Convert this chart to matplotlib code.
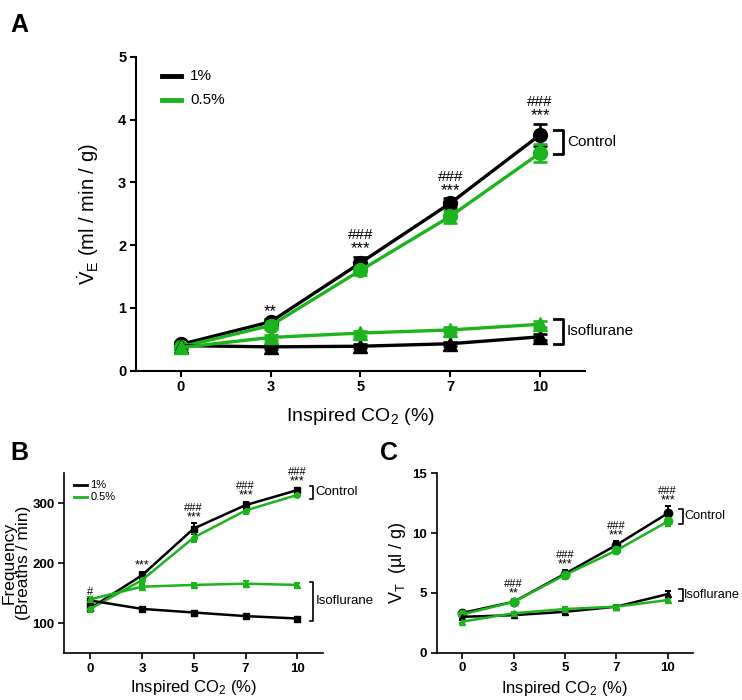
import matplotlib
matplotlib.use("Agg")
import matplotlib.pyplot as plt
import numpy as np

plt.rcParams['font.family'] = ['Liberation Sans', 'DejaVu Sans']
plt.rcParams['mathtext.fontset'] = 'custom'
plt.rcParams['mathtext.rm'] = 'Liberation Sans'
plt.rcParams['mathtext.it'] = 'Liberation Sans:italic'
plt.rcParams['mathtext.bf'] = 'Liberation Sans:bold'

GREEN = '#1cb41c'
BLACK = '#000000'

co2_labels = ['0', '3', '5', '7', '10']

# Panel A: minute ventilation (ml/min/g)
a_ctrl_1 = [0.42, 0.78, 1.72, 2.67, 3.76]
a_ctrl_1_err = [0.03, 0.05, 0.10, 0.08, 0.18]
a_ctrl_05 = [0.38, 0.72, 1.60, 2.46, 3.47]
a_ctrl_05_err = [0.03, 0.05, 0.08, 0.10, 0.14]
a_iso_1 = [0.40, 0.38, 0.39, 0.43, 0.54]
a_iso_1_err = [0.02, 0.03, 0.03, 0.03, 0.05]
a_iso_05 = [0.37, 0.53, 0.60, 0.65, 0.74]
a_iso_05_err = [0.03, 0.04, 0.04, 0.04, 0.05]
a_stars = ['', '**', '***', '***', '***']
a_hash = ['', '', '###', '###', '###']

# Panel B: frequency (breaths/min)
b_ctrl_1 = [125, 180, 258, 297, 322]
b_ctrl_1_err = [5, 6, 9, 6, 4]
b_ctrl_05 = [124, 172, 243, 288, 314]
b_ctrl_05_err = [5, 6, 8, 6, 4]
b_iso_1 = [138, 124, 118, 112, 108]
b_iso_1_err = [3, 2, 2, 2, 2]
b_iso_05 = [140, 161, 164, 166, 164]
b_iso_05_err = [4, 3, 3, 4, 4]
b_stars = ['', '***', '***', '***', '***']
b_hash = ['#', '', '###', '###', '###']

# Panel C: tidal volume (ul/g)
c_ctrl_1 = [3.33, 4.25, 6.6, 9.0, 11.65]
c_ctrl_1_err = [0.15, 0.2, 0.3, 0.3, 0.6]
c_ctrl_05 = [3.2, 4.25, 6.5, 8.55, 10.97]
c_ctrl_05_err = [0.15, 0.2, 0.3, 0.3, 0.4]
c_iso_1 = [3.0, 3.14, 3.42, 3.85, 4.9]
c_iso_1_err = [0.1, 0.1, 0.15, 0.15, 0.3]
c_iso_05 = [2.6, 3.3, 3.65, 3.85, 4.4]
c_iso_05_err = [0.1, 0.1, 0.15, 0.15, 0.2]
c_stars = ['', '**', '***', '***', '***']
c_hash = ['', '###', '###', '###', '###']

fig = plt.figure(figsize=(7.42, 7.0), dpi=100)
x = np.arange(len(co2_labels))


def style_axes(ax, tick_size, lw):
    for s in ['top', 'right']:
        ax.spines[s].set_visible(False)
    for s in ['left', 'bottom']:
        ax.spines[s].set_linewidth(lw)
    ax.tick_params(direction='out', width=lw, length=4, labelsize=tick_size, pad=3)
    for t in ax.get_xticklabels() + ax.get_yticklabels():
        t.set_fontweight('bold')
    ax.set_xlim(-0.5, 4.5)
    ax.set_xticks(x)
    ax.set_xticklabels(co2_labels, fontweight='bold')


def plot_series(ax, y, err, color, marker, ms, lw, cap):
    ax.errorbar(x, y, yerr=err, color=color, marker=marker, markersize=ms,
                linewidth=lw, elinewidth=lw * 0.8, capsize=cap, capthick=lw * 0.8,
                clip_on=False, zorder=3)


def annotate(ax, tops, stars, hashes, hsize, ssize, off1, off2):
    for i, (t, s, h) in enumerate(zip(tops, stars, hashes)):
        if s:
            ax.annotate(s, (x[i], t), xytext=(0, off1), textcoords='offset points',
                        ha='center', va='bottom', fontsize=ssize)
        if h:
            ax.annotate(h, (x[i], t), xytext=(0, off2 if s else off1), textcoords='offset points',
                        ha='center', va='bottom', fontsize=hsize)


def bracket(ax, xpos, y0, y1, label, size, w=0.08, lw=1.5, gap=0.05):
    ax.plot([xpos, xpos + w, xpos + w, xpos], [y0, y0, y1, y1], color='black',
            lw=lw, clip_on=False)
    ax.text(xpos + w + gap, (y0 + y1) / 2, label, va='center', ha='left', fontsize=size)


# ---------------- Panel A ----------------
axA = fig.add_axes([136 / 742, 1 - 370.7 / 700, 449 / 742, 313.7 / 700])
plot_series(axA, a_ctrl_1, a_ctrl_1_err, BLACK, 'o', 10, 2.4, 5)
plot_series(axA, a_ctrl_05, a_ctrl_05_err, GREEN, 'o', 10, 2.4, 5)
plot_series(axA, a_iso_1, a_iso_1_err, BLACK, '^', 10, 2.4, 5)
plot_series(axA, a_iso_05, a_iso_05_err, GREEN, '^', 10, 2.4, 5)
axA.set_ylim(0, 5)
axA.set_yticks([0, 1, 2, 3, 4, 5])
style_axes(axA, 10.5, 1.5)
axA.set_xlabel('Inspired CO$_2$ (%)', fontsize=14, labelpad=8)
axA.set_ylabel(r'$\dot{\mathrm{V}}_{\mathrm{E}}$ (ml / min / g)', fontsize=14.5, labelpad=12)
topsA = [max(a + ae, b + be) for a, ae, b, be in zip(a_ctrl_1, a_ctrl_1_err, a_ctrl_05, a_ctrl_05_err)]
annotate(axA, topsA, a_stars, a_hash, 11, 12, 0, 10.5)
bracket(axA, 4.15, 3.83, 3.45, 'Control', 11, w=0.1, lw=2)
bracket(axA, 4.15, 0.82, 0.43, 'Isoflurane', 11, w=0.1, lw=2)
axA.plot([-0.21, 0.0], [4.7, 4.7], color=BLACK, lw=3.5)
axA.plot([-0.21, 0.0], [4.32, 4.32], color=GREEN, lw=3.5)
axA.text(0.1, 4.7, '1%', va='center', fontsize=11)
axA.text(0.1, 4.32, '0.5%', va='center', fontsize=11)

# ---------------- Panel B ----------------
axB = fig.add_axes([64.3 / 742, 1 - 653.3 / 700, 259 / 742, 180 / 700])
plot_series(axB, b_ctrl_1, b_ctrl_1_err, BLACK, 's', 4, 1.8, 2.5)
plot_series(axB, b_ctrl_05, b_ctrl_05_err, GREEN, 'o', 4, 1.8, 2.5)
plot_series(axB, b_iso_1, b_iso_1_err, BLACK, 's', 4, 1.8, 2.5)
plot_series(axB, b_iso_05, b_iso_05_err, GREEN, '^', 4, 1.8, 2.5)
axB.set_ylim(50, 350)
axB.set_yticks([100, 200, 300])
style_axes(axB, 9.5, 1.2)
axB.set_xlabel('Inspired CO$_2$ (%)', fontsize=12, labelpad=2)
axB.set_ylabel('Frequency\n(Breaths / min)', fontsize=12.5, labelpad=1, linespacing=0.95)
topsB = [max(a + ae, b + be) for a, ae, b, be in zip(b_ctrl_1, b_ctrl_1_err, b_ctrl_05, b_ctrl_05_err)]
topsB[0] = b_iso_05[0] + b_iso_05_err[0]
annotate(axB, topsB, b_stars, b_hash, 8, 9, 0, 7.5)
bracket(axB, 4.25, 329, 308, 'Control', 9.5, w=0.06, lw=1.2, gap=0.04)
bracket(axB, 4.25, 169, 104, 'Isoflurane', 9.5, w=0.06, lw=1.2, gap=0.04)
axB.plot([-0.32, -0.07], [330, 330], color=BLACK, lw=2)
axB.plot([-0.32, -0.07], [310, 310], color=GREEN, lw=2)
axB.text(0.0, 330, '1%', va='center', fontsize=8)
axB.text(0.0, 310, '0.5%', va='center', fontsize=8)

# ---------------- Panel C ----------------
axC = fig.add_axes([436.7 / 742, 1 - 652.7 / 700, 256.6 / 742, 179.4 / 700])
plot_series(axC, c_ctrl_1, c_ctrl_1_err, BLACK, 'o', 6, 1.8, 2.5)
plot_series(axC, c_ctrl_05, c_ctrl_05_err, GREEN, 'o', 6, 1.8, 2.5)
plot_series(axC, c_iso_1, c_iso_1_err, BLACK, '^', 5, 1.8, 2.5)
plot_series(axC, c_iso_05, c_iso_05_err, GREEN, '^', 5, 1.8, 2.5)
axC.set_ylim(0, 15)
axC.set_yticks([0, 5, 10, 15])
style_axes(axC, 9.5, 1.2)
axC.set_xlabel('Inspired CO$_2$ (%)', fontsize=12, labelpad=3)
axC.set_ylabel('V$_\\mathrm{T}$  (µl / g)', fontsize=13, labelpad=3)
topsC = [max(a + ae, b + be) for a, ae, b, be in zip(c_ctrl_1, c_ctrl_1_err, c_ctrl_05, c_ctrl_05_err)]
annotate(axC, topsC, c_stars, c_hash, 8, 9, 0, 7.5)
bracket(axC, 4.22, 12.0, 10.8, 'Control', 9.2, w=0.07, lw=1.2, gap=0.03)
bracket(axC, 4.22, 5.3, 4.3, 'Isoflurane', 9.2, w=0.07, lw=1.2, gap=0.03)

# Panel letters
fig.text(10 / 742, 1 - 32 / 700, 'A', fontsize=18, fontweight='bold')
fig.text(10 / 742, 1 - 460 / 700, 'B', fontsize=18, fontweight='bold')
fig.text(380 / 742, 1 - 460 / 700, 'C', fontsize=18, fontweight='bold')

fig.savefig('out.png', dpi=100)
